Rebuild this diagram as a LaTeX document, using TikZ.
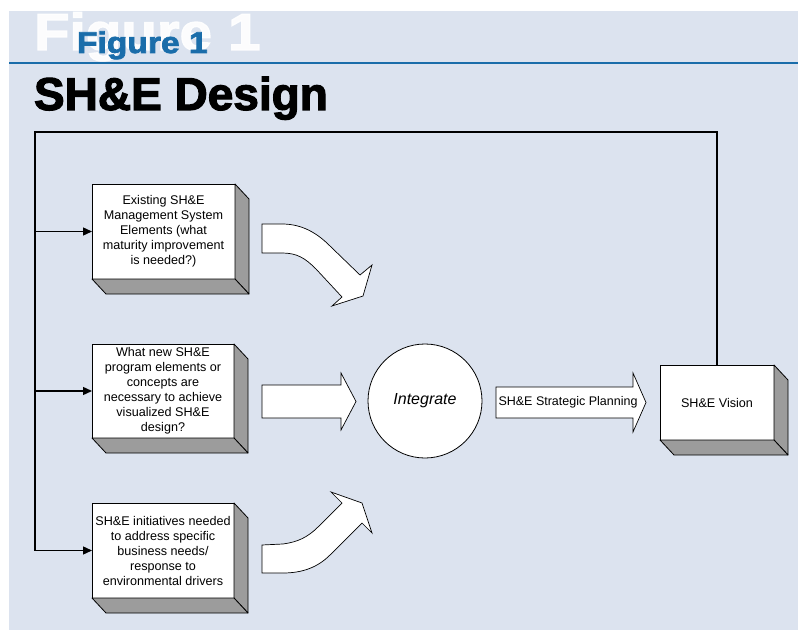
\documentclass[tikz,border=0pt]{standalone}
\usepackage{fontspec}
\setmainfont{Liberation Sans}
\newfontfamily\titlefont{Liberation Sans}[UprightFont={* Bold}, FakeBold=2.5]
\newfontfamily\figfont{Liberation Sans}[UprightFont={* Bold}, FakeBold=2.5, FakeStretch=1.12]
\usetikzlibrary{arrows.meta,calc}
\definecolor{panel}{HTML}{DCE3EF}
\definecolor{rulecol}{HTML}{1A6DAA}
\definecolor{face}{HTML}{9C9C9C}

\tikzset{
  box/.style={draw=black, line width=0.8pt, fill=white, align=center,
    font=\fontsize{12.6}{15}\selectfont, inner sep=2pt, outer sep=0pt},
  side/.style={draw=black, line width=0.8pt, fill=face, line join=round},
  feed/.style={line width=1.6pt, line join=miter},
  feedarrow/.style={line width=1.4pt, -{Triangle[length=9pt,width=8pt]}},
  blockarrow/.style={draw=black, line width=0.7pt, fill=white, line join=miter},
  titletext/.style={anchor=base west, inner sep=0pt, outer sep=0pt},
}

% grey right and bottom faces that give a box its depth
\newcommand\depthfaces[1]{%
  \draw[side] (#1.north east) -- ($(#1.north east)+(14,15)$)
    -- ($(#1.south east)+(14,15)$) -- (#1.south east) -- cycle;
  \draw[side] (#1.south west) -- ($(#1.south west)+(14,15)$)
    -- ($(#1.south east)+(14,15)$) -- (#1.south east) -- cycle;
}

\begin{document}
\begin{tikzpicture}[x=1pt,y=-1pt]
\useasboundingbox (0,0) rectangle (798,631);
\fill[white] (0,0) rectangle (798,631);
\fill[panel] (9,11) rectangle (798,630);

% heading
\node[titletext, text=white, opacity=.92,
  font=\figfont\fontsize{52}{52}\selectfont] (ghost) at (34,50) {Figure 1};
\node[titletext, text=rulecol,
  font=\figfont\fontsize{30}{30}\selectfont] (fig) at (77,53) {Figure 1};
\draw[rulecol, line width=2.5pt] (9,63) -- (798,63);
\node[titletext,
  font=\titlefont\fontsize{46}{46}\selectfont] (title) at (34,110) {SH\&E Design};

% input boxes
\node[box, minimum width=143, minimum height=95] (b1) at (163.5,231.5)
  {Existing SH\&E\\Management System\\Elements (what\\maturity improvement\\is needed?)};
\depthfaces{b1}
\node[box, minimum width=142, minimum height=94] (b2) at (163,391)
  {What new SH\&E\\program elements or\\concepts are\\necessary to achieve\\visualized SH\&E\\design?};
\depthfaces{b2}
\node[box, minimum width=142, minimum height=95] (b3) at (163,550.5)
  {SH\&E initiatives needed\\to address specific\\business needs/\\response to\\environmental drivers};
\depthfaces{b3}

% vision box
\node[box, minimum width=114, minimum height=75] (vision) at (717,402.5) {SH\&E Vision};
\depthfaces{vision}

% integrate circle
\node[circle, draw=black, line width=0.8pt, fill=white, minimum size=114,
  font=\itshape\fontsize{16}{18}\selectfont] (integ) at (425,401) {Integrate};

% block arrows into the circle
\draw[blockarrow] (262,224) -- (282,224) .. controls (303,224) and (318,234) .. (330,246)
  -- (360,275) -- (372,265) -- (363,296) -- (332,306) -- (342,297)
  -- (316,269) .. controls (305,258) and (297,253) .. (282,253) -- (262,253) -- cycle;
\draw[blockarrow] (262,385) -- (341,385) -- (341,373) -- (356,401.5) -- (341,430)
  -- (341,418) -- (262,418) -- cycle;
\draw[blockarrow] (262,545) -- (283,544) .. controls (298,542) and (308,537) .. (318,527)
  -- (342,503) -- (331,492) -- (362,503) -- (372,533) -- (362,523)
  -- (330,555) .. controls (318,567) and (303,573) .. (283,573) -- (262,573) -- cycle;

% strategic planning arrow
\draw[blockarrow] (496,387) -- (633,387) -- (633,373) -- (646,402.5) -- (633,432)
  -- (633,418) -- (496,418) -- cycle;
\node[font=\fontsize{12.5}{15}\selectfont, inner sep=0pt] (plan) at (568,402.5)
  {SH\&E Strategic Planning};

% feedback loop from the vision back to the inputs
\coordinate (fbtop) at (35,132);
\draw[feed] (vision.north) |- (fbtop) -- (fbtop |- b3.west);
\draw[feedarrow] (fbtop |- b1.west) -- (b1.west);
\draw[feedarrow] (fbtop |- b2.west) -- (b2.west);
\draw[feedarrow] (fbtop |- b3.west) -- (b3.west);
\end{tikzpicture}
\end{document}
